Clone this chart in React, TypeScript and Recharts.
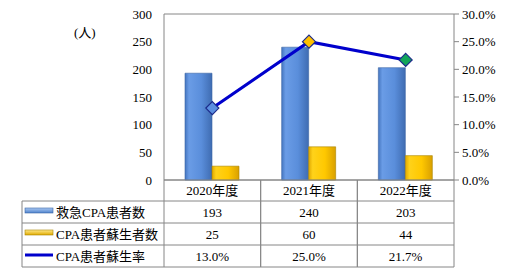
import React from 'react';
import { ComposedChart, Bar, Line, XAxis, YAxis, CartesianGrid, Customized } from 'recharts';

const years = ['2020年度', '2021年度', '2022年度'];
const cpaPatients = [193, 240, 203];
const revived = [25, 60, 44];
const reviveRate = [0.13, 0.25, 0.217];
const rateLabels = ['13.0%', '25.0%', '21.7%'];
const leftTicks = [0, 50, 100, 150, 200, 250, 300];
const rightTicks = [0, 0.05, 0.1, 0.15, 0.2, 0.25, 0.3];
const seriesNames = ['救急CPA患者数', 'CPA患者蘇生者数', 'CPA患者蘇生率'];

const data = years.map((year, i) => ({
  year,
  patients: cpaPatients[i],
  revived: revived[i],
  rate: reviveRate[i],
}));

const FONT = "'Liberation Serif', 'Noto Sans CJK JP', serif";
const GRID = '#868686';
const W = 509;
const H = 274;
const PLOT_LEFT = 164;
const PLOT_RIGHT = 454;
const PLOT_BOTTOM = 180;
const TABLE_LEFT = 22;
const ROWS = [180, 201, 223, 245, 267];
const BAND = (PLOT_RIGHT - PLOT_LEFT) / years.length;
const markerColors = ['#5b8fe0', '#ffc000', '#12a55a'];

const rowValues = (i: number) => [String(cpaPatients[i]), String(revived[i]), rateLabels[i]];

const TableColumn = (props: any) => {
  const { x, payload } = props;
  const i = payload.index;
  const vals = rowValues(i);
  return (
    <g fontFamily={FONT} fontSize={13} fill="#000">
      <text x={x} y={(ROWS[0] + ROWS[1]) / 2} textAnchor="middle" dominantBaseline="central">
        {payload.value}
      </text>
      {vals.map((v, r) => (
        <text key={r} x={x} y={(ROWS[r + 1] + ROWS[r + 2]) / 2} textAnchor="middle" dominantBaseline="central">
          {v}
        </text>
      ))}
      <line x1={x - BAND / 2} x2={x - BAND / 2} y1={ROWS[0]} y2={ROWS[4]} stroke={GRID} />
      <line x1={x + BAND / 2} x2={x + BAND / 2} y1={ROWS[0]} y2={ROWS[4]} stroke={GRID} />
    </g>
  );
};

const TableFrame = () => (
  <g fontFamily={FONT} fontSize={13}>
    {ROWS.slice(1).map((y) => (
      <line key={y} x1={TABLE_LEFT} x2={PLOT_RIGHT} y1={y} y2={y} stroke={GRID} />
    ))}
    <line x1={TABLE_LEFT} x2={TABLE_LEFT} y1={ROWS[1]} y2={ROWS[4]} stroke={GRID} />
    <rect x={25} y={208} width={28} height={5} fill="url(#blueIcon)" stroke="#3b66a6" strokeWidth={0.6} />
    <rect x={25} y={230} width={28} height={5} fill="url(#goldIcon)" stroke="#a88400" strokeWidth={0.6} />
    <line x1={25} x2={53} y1={255} y2={255} stroke="#0000cc" strokeWidth={3} />
    {seriesNames.map((n, r) => (
      <text key={n} x={56} y={(ROWS[r + 1] + ROWS[r + 2]) / 2} dominantBaseline="central" fill="#000">
        {n}
      </text>
    ))}
    <text x={74} y={32} dominantBaseline="central" fill="#000">(人)</text>
  </g>
);

const Diamond = (props: any) => {
  const { cx, cy, index } = props;
  const s = 6.5;
  return (
    <polygon
      key={index}
      points={`${cx},${cy - s} ${cx + s},${cy} ${cx},${cy + s} ${cx - s},${cy}`}
      fill={markerColors[index]}
      stroke="#1c2a8a"
      strokeWidth={1.2}
    />
  );
};

export default function App() {
  return (
    <div style={{ position: 'absolute', left: 0, top: 0, width: W, height: H, background: '#fff' }}>
      <ComposedChart
        width={W}
        height={H}
        data={data}
        margin={{ top: 14, right: 0, bottom: 0, left: 0 }}
        barCategoryGap="21%"
        barGap={0}
      >
        <defs>
          <linearGradient id="blueBar" x1="0" y1="0" x2="1" y2="0">
            <stop offset="0%" stopColor="#4576c0" />
            <stop offset="15%" stopColor="#6a9ce6" />
            <stop offset="60%" stopColor="#5a8edb" />
            <stop offset="100%" stopColor="#3f6cb2" />
          </linearGradient>
          <linearGradient id="goldBar" x1="0" y1="0" x2="1" y2="0">
            <stop offset="0%" stopColor="#e0a800" />
            <stop offset="15%" stopColor="#ffd21a" />
            <stop offset="60%" stopColor="#ffc800" />
            <stop offset="100%" stopColor="#d9a000" />
          </linearGradient>
          <linearGradient id="blueIcon" x1="0" y1="0" x2="0" y2="1">
            <stop offset="0%" stopColor="#a9c8f2" />
            <stop offset="100%" stopColor="#4f82cc" />
          </linearGradient>
          <linearGradient id="goldIcon" x1="0" y1="0" x2="0" y2="1">
            <stop offset="0%" stopColor="#ffe98a" />
            <stop offset="100%" stopColor="#e0aa00" />
          </linearGradient>
        </defs>
        <CartesianGrid vertical={false} stroke={GRID} />
        <XAxis
          dataKey="year"
          height={H - PLOT_BOTTOM}
          axisLine={{ stroke: GRID }}
          tickLine={false}
          interval={0}
          tick={<TableColumn />}
        />
        <YAxis
          yAxisId="left"
          width={PLOT_LEFT}
          domain={[0, 300]}
          ticks={leftTicks}
          axisLine={{ stroke: GRID }}
          tickLine={false}
          tickMargin={6}
          tick={{ fill: '#000', fontFamily: FONT, fontSize: 13 }}
        />
        <YAxis
          yAxisId="right"
          orientation="right"
          width={W - PLOT_RIGHT}
          domain={[0, 0.3]}
          ticks={rightTicks}
          tickFormatter={(v: number) => `${(v * 100).toFixed(1)}%`}
          axisLine={{ stroke: GRID }}
          tickLine={{ stroke: GRID }}
          tickSize={5}
          tickMargin={3}
          tick={{ fill: '#000', fontFamily: FONT, fontSize: 13 }}
        />
        <Bar yAxisId="left" dataKey="patients" barSize={27} fill="url(#blueBar)" stroke="#3a64a4" strokeWidth={0.6} isAnimationActive={false} />
        <Bar yAxisId="left" dataKey="revived" barSize={27} fill="url(#goldBar)" stroke="#a88400" strokeWidth={0.6} isAnimationActive={false} />
        <Line
          yAxisId="right"
          dataKey="rate"
          stroke="#0000cc"
          strokeWidth={3}
          dot={<Diamond />}
          activeDot={false}
          isAnimationActive={false}
        />
        <Customized component={<TableFrame />} />
      </ComposedChart>
    </div>
  );
}
